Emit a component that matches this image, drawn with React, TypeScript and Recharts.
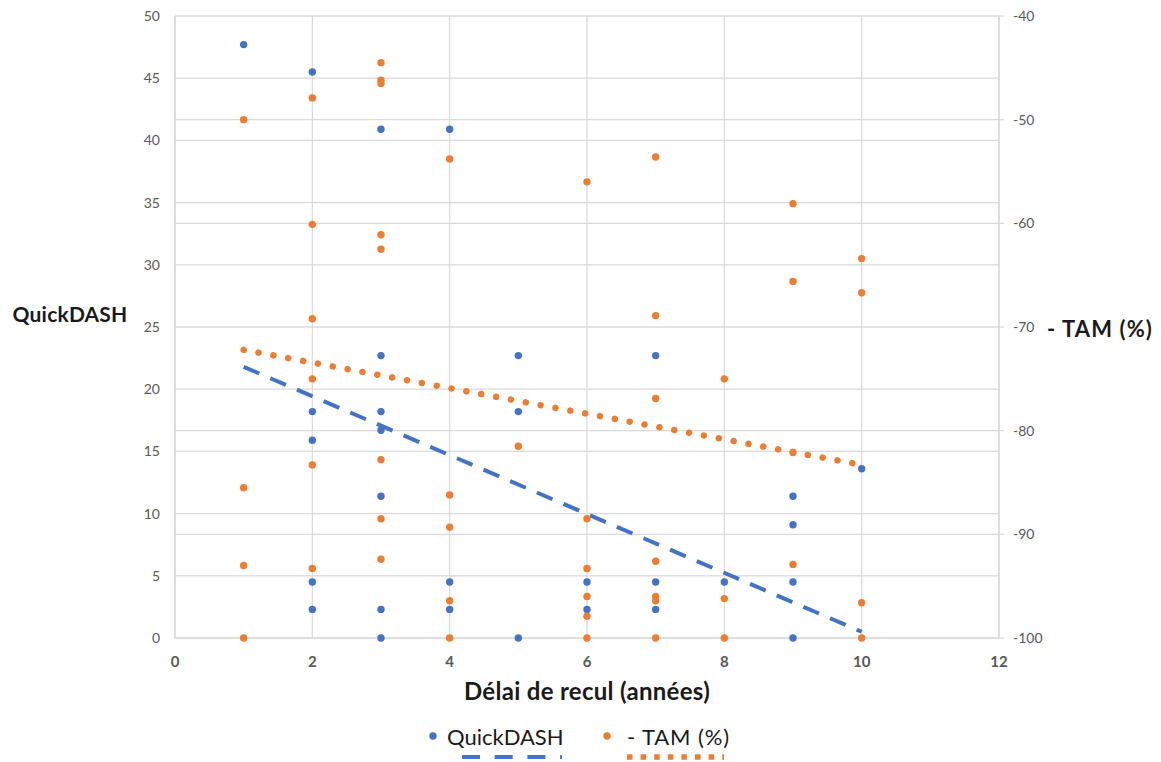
import { ComposedChart, Scatter, XAxis, YAxis, CartesianGrid, Legend, Label } from "recharts"

const BLUE = "#4472C4"
const ORANGE = "#ED7D31"
const GRID = "#d9d9d9"
const TICK = "#595959"
const FONT = "Lato, 'Open Sans', sans-serif"

// QuickDASH (left axis)
const qdYears = [1, 2, 2, 2, 2, 2, 3, 3, 3, 3, 3, 3, 3, 4, 4, 4, 5, 5, 5, 6, 6, 7, 7, 7, 8, 9, 9, 9, 9, 10]
const qdScores = [
  47.7, 45.5, 18.2, 15.9, 4.5, 2.3, 40.9, 22.7, 18.2, 16.7, 11.4, 2.3, 0, 40.9, 4.5, 2.3, 22.7, 18.2, 0, 4.5,
  2.3, 22.7, 4.5, 2.3, 4.5, 11.4, 9.1, 4.5, 0, 13.6,
]

// - TAM (%) (right axis)
const tamYears = [
  1, 1, 1, 1, 2, 2, 2, 2, 2, 2, 3, 3, 3, 3, 3, 3, 3, 3, 4, 4, 4, 4, 4, 5, 6, 6, 6, 6, 6, 6, 7, 7, 7, 7, 7, 7, 7,
  8, 8, 8, 9, 9, 9, 9, 10, 10, 10, 10,
]
const tamValues = [
  -50, -85.5, -93, -100, -47.9, -60.1, -69.2, -75, -83.3, -93.3, -44.5, -46.2, -46.5, -61.1, -62.5, -82.8, -88.5,
  -92.4, -53.8, -86.2, -89.3, -96.4, -100, -81.5, -56, -88.5, -93.3, -96, -97.9, -100, -53.6, -68.9, -76.9, -92.6,
  -96, -96.4, -100, -75, -96.2, -100, -58.1, -65.6, -82.1, -92.9, -63.4, -66.7, -96.6, -100,
]

// trend lines
const trendYears = [1, 10]
const qdTrend = [21.8, 0.5]
const tamTrend = [-72.2, -83.3]

const xTicks = [0, 2, 4, 6, 8, 10, 12]
const leftTicks = [0, 5, 10, 15, 20, 25, 30, 35, 40, 45, 50]
const rightTicks = [-100, -90, -80, -70, -60, -50, -40]

const toPoints = (xs: number[], ys: number[]) => xs.map((x, i) => ({ x, y: ys[i] }))

const qdData = toPoints(qdYears, qdScores)
const tamData = toPoints(tamYears, tamValues)
const qdTrendData = toPoints(trendYears, qdTrend)
const tamTrendData = toPoints(trendYears, tamTrend)

const dot = (color: string) => (props: any) => <circle cx={props.cx} cy={props.cy} r={3.7} fill={color} />
const noDot = () => <g />

const renderLegend = () => (
  <svg width={1161} height={44} style={{ display: "block" }}>
    <circle cx={433} cy={18} r={3.7} fill={BLUE} />
    <text x={447} y={18} dominantBaseline="central" fontFamily={FONT} fontSize={22} fill="#1a1a1a">
      QuickDASH
    </text>
    <circle cx={607} cy={18} r={3.7} fill={ORANGE} />
    <text x={627} y={18} dominantBaseline="central" fontFamily={FONT} fontSize={22} letterSpacing={0.9} fill="#1a1a1a">
      - TAM (%)
    </text>
    <line x1={462} x2={562} y1={39} y2={39} stroke={BLUE} strokeWidth={4} strokeDasharray="18 14.7" />
    <line x1={627} x2={724} y1={39} y2={39} stroke={ORANGE} strokeWidth={5.5} strokeDasharray="5.5 8.1" />
  </svg>
)

export default function App() {
  return (
    <div style={{ position: "absolute", left: 0, top: 0 }}>
      <ComposedChart width={1161} height={762} margin={{ top: 16, right: 0, left: 0, bottom: 0 }}>
        <CartesianGrid yAxisId="left" stroke={GRID} strokeWidth={1.2} />
        <CartesianGrid yAxisId="right" stroke={GRID} strokeWidth={1.2} vertical={false} />
        <XAxis
          type="number"
          dataKey="x"
          domain={[0, 12]}
          ticks={xTicks}
          height={80}
          tickLine={false}
          tickMargin={12}
          axisLine={{ stroke: GRID, strokeWidth: 1.2 }}
          tick={{ fill: TICK, fontSize: 15, fontWeight: 700, fontFamily: FONT }}
        >
          <Label
            content={(p: any) => (
              <text
                x={p.viewBox.x + p.viewBox.width / 2}
                y={p.viewBox.y + 52}
                dominantBaseline="central"
                textAnchor="middle"
                fontFamily={FONT}
                fontWeight={700}
                fontSize={24}
                letterSpacing={0.3}
                fill="#1a1a1a"
              >
                Délai de recul (années)
              </text>
            )}
          />
        </XAxis>
        <YAxis
          yAxisId="left"
          type="number"
          dataKey="y"
          domain={[0, 50]}
          ticks={leftTicks}
          width={175}
          tickLine={false}
          tickMargin={9}
          axisLine={{ stroke: GRID, strokeWidth: 1.2 }}
          tick={{ fill: TICK, fontSize: 14, fontFamily: FONT }}
        >
          <Label
            content={() => (
              <text
                x={70}
                y={313}
                dominantBaseline="central"
                textAnchor="middle"
                fontFamily={FONT}
                fontWeight={700}
                fontSize={21}
                letterSpacing={0.2}
                fill="#1a1a1a"
              >
                QuickDASH
              </text>
            )}
          />
        </YAxis>
        <YAxis
          yAxisId="right"
          orientation="right"
          type="number"
          dataKey="y"
          domain={[-100, -40]}
          ticks={rightTicks}
          width={162}
          tickSize={5}
          tickMargin={9}
          tickLine={{ stroke: GRID, strokeWidth: 1.2 }}
          axisLine={{ stroke: GRID, strokeWidth: 1.2 }}
          tick={{ fill: TICK, fontSize: 14, fontFamily: FONT }}
        >
          <Label
            content={() => (
              <text
                x={1100}
                y={328}
                dominantBaseline="central"
                textAnchor="middle"
                fontFamily={FONT}
                fontWeight={700}
                fontSize={22}
                letterSpacing={1.1}
                fill="#1a1a1a"
              >
                - TAM (%)
              </text>
            )}
          />
        </YAxis>
        <Legend verticalAlign="bottom" content={renderLegend} wrapperStyle={{ left: 0, bottom: 0, width: 1161 }} />
        <Scatter
          name="QuickDASH trend"
          data={qdTrendData}
          yAxisId="left"
          shape={noDot}
          line={{ stroke: BLUE, strokeWidth: 4, strokeDasharray: "17 12" }}
          lineType="joint"
          legendType="none"
          isAnimationActive={false}
        />
        <Scatter
          name="TAM trend"
          data={tamTrendData}
          yAxisId="right"
          shape={noDot}
          line={{ stroke: ORANGE, strokeWidth: 6.5, strokeDasharray: "0.1 15", strokeLinecap: "round" }}
          lineType="joint"
          legendType="none"
          isAnimationActive={false}
        />
        <Scatter name="QuickDASH" data={qdData} yAxisId="left" fill={BLUE} shape={dot(BLUE)} isAnimationActive={false} />
        <Scatter name="- TAM (%)" data={tamData} yAxisId="right" fill={ORANGE} shape={dot(ORANGE)} isAnimationActive={false} />
      </ComposedChart>
    </div>
  )
}
